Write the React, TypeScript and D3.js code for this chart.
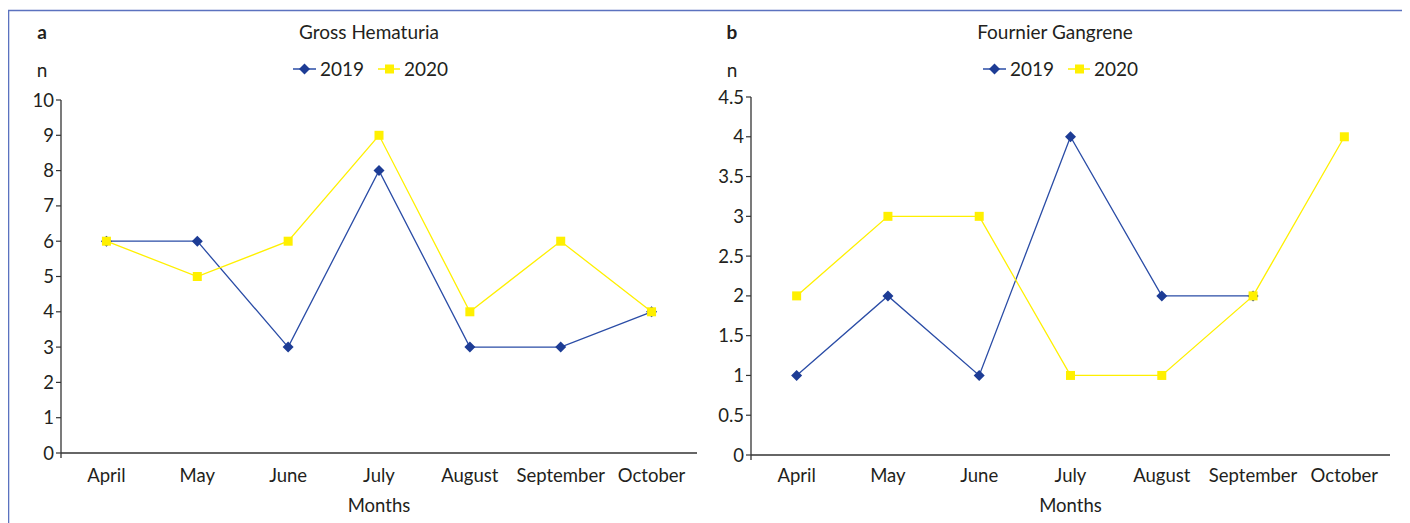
import * as d3 from "d3";

const months = ["April", "May", "June", "July", "August", "September", "October"];
const seriesNames = ["2019", "2020"];

// panel a
const hematuria2019 = [6, 6, 3, 8, 3, 3, 4];
const hematuria2020 = [6, 5, 6, 9, 4, 6, 4];
const hematuriaTicks = [0, 1, 2, 3, 4, 5, 6, 7, 8, 9, 10];

// panel b (no October value for 2019)
const fournier2019 = [1, 2, 1, 4, 2, 2, null];
const fournier2020 = [2, 3, 3, 1, 1, 2, 4];
const fournierTicks = [0, 0.5, 1, 1.5, 2, 2.5, 3, 3.5, 4, 4.5];

const BLUE = "#2a4ca6";
const BLUE_MARK = "#1d3c95";
const YELLOW = "#fff000";
const FONT = "Lato, 'Open Sans', sans-serif";

const Panel = ({ letter, title, titleX, s2019, s2020, ticks, left, right, top, bottom, yMax, legendX }) => {
  const x = d3.scaleBand().domain(months).range([left, right]);
  const y = d3.scaleLinear().domain([0, yMax]).range([bottom, top]);
  const line = d3
    .line()
    .defined((d) => d[1] != null)
    .x((d) => x(d[0]) + x.bandwidth() / 2)
    .y((d) => y(d[1]));
  const pts = (vals) => months.map((m, i) => [m, vals[i]]);
  // diamond = square turned 45deg
  const diamond = "M0,-5.5L5.5,0L0,5.5L-5.5,0Z";

  return (
    <g fontFamily={FONT} fill="#231f20">
      <text x={left - 19} y={39} fontWeight="bold" fontSize={19} textAnchor="middle">{letter}</text>
      <text x={titleX} y={39} fontSize={19} textAnchor="middle">{title}</text>
      <text x={left - 19} y={77} fontSize={19} textAnchor="middle">n</text>

      {/* legend */}
      <g transform={`translate(${legendX},69)`}>
        <line x1={0} x2={23} stroke={BLUE} strokeWidth={1.5} />
        <path d={diamond} transform="translate(11.5,0)" fill={BLUE_MARK} />
        <text x={27} y={7} fontSize={19}>{seriesNames[0]}</text>
        <line x1={85} x2={107} stroke={YELLOW} strokeWidth={1.5} />
        <rect x={92} y={-4.5} width={9} height={9} fill={YELLOW} />
        <text x={111} y={7} fontSize={19}>{seriesNames[1]}</text>
      </g>

      {/* axes */}
      <line x1={left} x2={left} y1={top} y2={bottom + 5} stroke="#333" strokeWidth={1.3} />
      <line x1={left} x2={right} y1={bottom} y2={bottom} stroke="#333" strokeWidth={1.3} />
      {ticks.map((t) => (
        <g key={t}>
          <line x1={left - 5} x2={left} y1={y(t)} y2={y(t)} stroke="#333" strokeWidth={1.2} />
          <text x={left - 7} y={y(t) + 6.5} fontSize={18.5} textAnchor="end">{t}</text>
        </g>
      ))}
      {months.map((m) => (
        <text key={m} x={x(m) + x.bandwidth() / 2} y={482} fontSize={18.5} textAnchor="middle">{m}</text>
      ))}
      <text x={(left + right) / 2} y={512} fontSize={18.5} textAnchor="middle">Months</text>

      {/* series */}
      <path d={line(pts(s2019))} fill="none" stroke={BLUE} strokeWidth={1.3} />
      {pts(s2019).filter((d) => d[1] != null).map((d) => (
        <path key={d[0]} d={diamond} fill={BLUE_MARK}
          transform={`translate(${x(d[0]) + x.bandwidth() / 2},${y(d[1])})`} />
      ))}
      <path d={line(pts(s2020))} fill="none" stroke={YELLOW} strokeWidth={1.3} />
      {pts(s2020).map((d) => (
        <rect key={d[0]} x={x(d[0]) + x.bandwidth() / 2 - 4.5} y={y(d[1]) - 4.5} width={9} height={9} fill={YELLOW} />
      ))}
    </g>
  );
};

export default function App() {
  return (
    <svg width={1394} height={515} style={{ display: "block", background: "#fff" }}>
      <g transform="translate(-8,-8)">
        <path d="M8.5,523 V10.5 H1406.5 V523" fill="none" stroke="#5b72bf" strokeWidth={1.6} />
        <Panel letter="a" title="Gross Hematuria" titleX={369} s2019={hematuria2019} s2020={hematuria2020}
          ticks={hematuriaTicks} left={61} right={697} top={100} bottom={453} yMax={10} legendX={293} />
        <Panel letter="b" title="Fournier Gangrene" titleX={1055} s2019={fournier2019} s2020={fournier2020}
          ticks={fournierTicks} left={751} right={1390} top={97} bottom={455} yMax={4.5} legendX={983} />
      </g>
    </svg>
  );
}
